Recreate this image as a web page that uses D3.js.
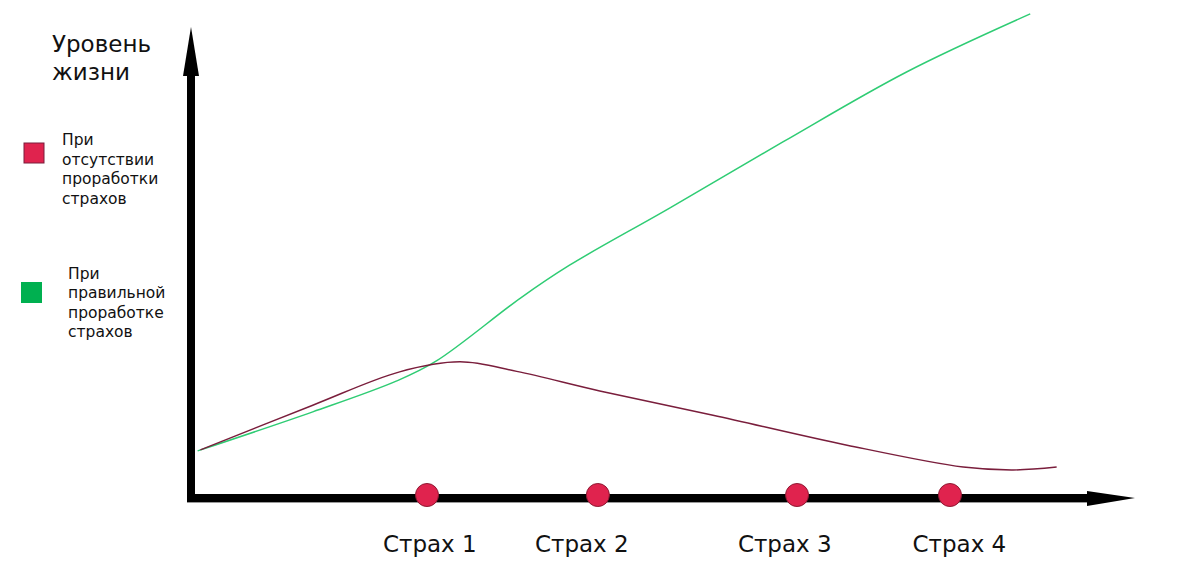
<!DOCTYPE html>
<html><head><meta charset="utf-8">
<script src="https://cdn.jsdelivr.net/npm/d3@7"></script>
<style>html,body{margin:0;padding:0;background:#fff;}svg{display:block;}</style>
</head><body>
<script>
// ---- data ----
const fearLabels = ["Страх 1", "Страх 2", "Страх 3", "Страх 4"];
const fearAt = [25.0, 43.1, 64.2, 80.4];
const fearLabelAt = [25.3, 41.4, 62.9, 81.4];
const greenT = [0.7, 12.9, 21.8, 26.0, 34.9, 40.1, 50.7, 62.7, 75.8, 88.9];
const greenV = [9.9, 18.1, 24.6, 28.8, 42.0, 48.9, 60.9, 74.8, 89.5, 101.7];
const redT = [1.0, 12.9, 22.1, 28.5, 34.5, 43.3, 55.3, 69.5, 81.8, 87.1, 91.7];
const redV = [10.1, 19.5, 26.5, 28.6, 26.6, 22.5, 17.4, 11.1, 6.5, 5.9, 6.5];
const yTitle = ["Уровень", "жизни"];
const legendRed = ["При", "отсутствии", "проработки", "страхов"];
const legendGreen = ["При", "правильной", "проработке", "страхов"];

const W = 1177, H = 566;
const svg = d3.select("body").append("svg").attr("width", W).attr("height", H);
const x = d3.scaleLinear().domain([0, 100]).range([191, 1135]);
const y = d3.scaleLinear().domain([0, 100]).range([498, 22]);
const font = "'DejaVu Sans', sans-serif";

// axes
const x0 = x(0), y0 = y(0);
svg.append("line").attr("x1", x0).attr("x2", x0).attr("y1", 74).attr("y2", y0 + 4)
  .attr("stroke", "#000").attr("stroke-width", 8);
svg.append("path").attr("d", `M${x0},${y(100) + 5} L${x0 - 8},${76} L${x0 + 8},${76} Z`).attr("fill", "#000");
svg.append("line").attr("x1", x0 - 4).attr("x2", 1090).attr("y1", y0).attr("y2", y0)
  .attr("stroke", "#000").attr("stroke-width", 8);
svg.append("line").attr("x1", x0 - 4).attr("x2", 1090).attr("y1", y0 + 4.5).attr("y2", y0 + 4.5)
  .attr("stroke", "#999").attr("stroke-width", 1);
svg.append("path").attr("d", `M${x(100)},${y0} L${1087},${y0 - 7} L${1087},${y0 + 8} Z`).attr("fill", "#000");

// lines
const line = d3.line().x(d => x(d[0])).y(d => y(d[1])).curve(d3.curveCatmullRom.alpha(0.5));
svg.append("path").datum(greenT.map((t, i) => [t, greenV[i]]))
  .attr("d", line).attr("fill", "none").attr("stroke", "#2fcc74").attr("stroke-width", 1.5);
svg.append("path").datum(redT.map((t, i) => [t, redV[i]]))
  .attr("d", line).attr("fill", "none").attr("stroke", "#7a1e3c").attr("stroke-width", 1.5);

// fear points
svg.selectAll("circle.fear").data(fearAt).join("circle").attr("class", "fear")
  .attr("cx", d => x(d)).attr("cy", y0 - 3).attr("r", 11.5)
  .attr("fill", "#e0234e").attr("stroke", "#8e1a33").attr("stroke-width", 1);
svg.selectAll("text.fear").data(fearLabels).join("text").attr("class", "fear")
  .attr("x", (d, i) => x(fearLabelAt[i])).attr("y", 552).attr("text-anchor", "middle")
  .attr("font-family", font).attr("font-size", 23).attr("fill", "#111").text(d => d);

// y title
svg.selectAll("text.yt").data(yTitle).join("text").attr("class", "yt")
  .attr("x", 52).attr("y", (d, i) => 52 + i * 28)
  .attr("font-family", font).attr("font-size", 23).attr("fill", "#111").text(d => d);

// legend
svg.append("rect").attr("x", 24).attr("y", 143).attr("width", 20).attr("height", 20)
  .attr("fill", "#e0234e").attr("stroke", "#7a1e3c").attr("stroke-width", 1);
svg.selectAll("text.lr").data(legendRed).join("text").attr("class", "lr")
  .attr("x", 62).attr("y", (d, i) => 145 + i * 19.5)
  .attr("font-family", font).attr("font-size", 15.5).attr("fill", "#111").text(d => d);
svg.append("rect").attr("x", 21).attr("y", 282).attr("width", 21).attr("height", 21)
  .attr("fill", "#00b050");
svg.selectAll("text.lg").data(legendGreen).join("text").attr("class", "lg")
  .attr("x", 68).attr("y", (d, i) => 279 + i * 19.4)
  .attr("font-family", font).attr("font-size", 15.5).attr("fill", "#111").text(d => d);
</script>
</body></html>
